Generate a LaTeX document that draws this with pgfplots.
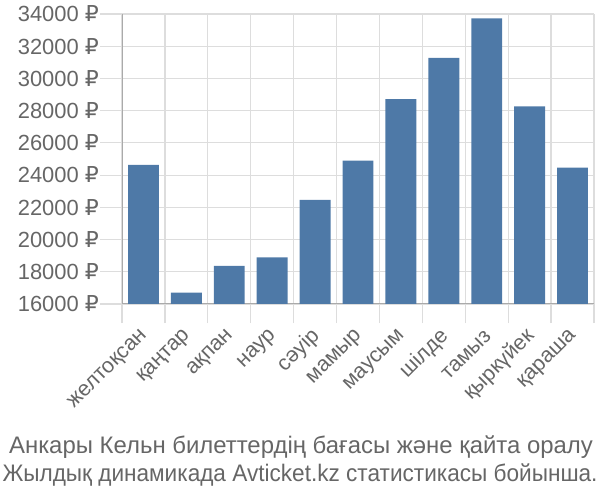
\documentclass[border=0pt]{standalone}
\usepackage{fontspec}
\setmainfont{Liberation Sans}
\newfontfamily\rub{DejaVu Sans}
\usepackage{graphicx}
\usepackage{pgfplots}
\pgfplotsset{compat=1.18}
\definecolor{barc}{HTML}{4E79A7}
\definecolor{txt}{HTML}{666666}
\definecolor{grd}{HTML}{DDDDDD}
\definecolor{axc}{HTML}{AAAAAA}
\begin{document}
\begin{tikzpicture}
\useasboundingbox (0,0) rectangle (600bp,500bp);
\begin{axis}[
  at={(122bp,196bp)}, anchor=south west,
  scale only axis, width=472bp, height=290bp,
  xmin=-0.5, xmax=10.5, ymin=16000, ymax=34000,
  ybar, bar width=0.72,
  axis x line*=bottom, axis y line*=left,
  axis line style={draw=axc, line width=1bp},
  every axis plot/.append style={draw=none},
  xtick={0,...,10},
  xticklabels={желтоқсан,қаңтар,ақпан,наур,сәуір,мамыр,маусым,шілде,тамыз,қыркүйек,қараша},
  major x tick style={draw=none},
  minor xtick={-0.5,0.5,...,10.5},
  minor x tick style={draw=grd, line width=1.2bp},
  minor tick length=19bp,
  xminorgrids,
  tick align=outside,
  ytick={16000,18000,...,34000},
  scaled y ticks=false,
  ymajorgrids,
  major grid style={draw=grd, line width=1.2bp},
  minor grid style={draw=grd, line width=1.2bp},
  major y tick style={draw=grd, line width=1.2bp},
  major tick length=22bp,
  /pgf/number format/1000 sep={},
  /pgf/number format/assume math mode=true,
  yticklabel={\pgfmathprintnumber{\tick}~{\rub ₽}},
  yticklabel style={font=\fontsize{22}{26}\selectfont, text=txt, inner sep=1bp},
  xticklabel style={font=\fontsize{21.5}{25}\selectfont, text=txt, rotate=45, anchor=east, inner sep=2bp, xshift=-2bp, yshift=-6bp},
  clip=true,
]
\addplot[fill=barc] coordinates {(0,24630) (1,16700) (2,18360) (3,18900) (4,22460) (5,24900) (6,28720) (7,31270) (8,33730) (9,28270) (10,24460)};
\end{axis}
\node[text=txt, font=\fontsize{24}{28}\selectfont, inner sep=0pt] at (301bp,53bp) {Анкары Кельн билеттердің бағасы және қайта оралу};
\node[text=txt, font=\fontsize{24}{28}\selectfont, inner sep=0pt] at (300bp,25bp) {\scalebox{0.945}[1]{Жылдық динамикада Avticket.kz статистикасы бойынша.}};
\end{tikzpicture}
\end{document}
